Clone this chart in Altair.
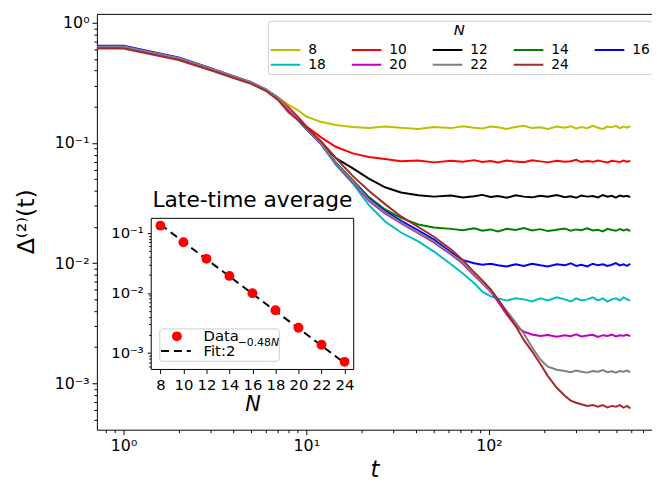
import altair as alt
import pandas as pd

# ---------------- data ----------------
T = [0.72, 1, 2, 3, 4, 5, 6, 7, 8, 9, 10, 12, 14.5, 18, 22, 27, 33, 41, 50, 62, 72, 83, 92,
     102, 112, 125, 140, 155, 172, 191, 210, 235, 260, 280, 300, 320, 345, 370, 395, 420,
     445, 470, 495, 520, 545, 570, 593]

D8 = [0.62, 0.62, 0.50, 0.41, 0.352, 0.314, 0.277, 0.240, 0.208, 0.188, 0.166, 0.150, 0.141,
      0.136, 0.133, 0.137, 0.134, 0.131, 0.136, 0.133, 0.138, 0.134, 0.132, 0.137, 0.135,
      0.131, 0.136, 0.139, 0.133, 0.135, 0.131, 0.137, 0.134, 0.138, 0.132, 0.136, 0.133,
      0.139, 0.134, 0.131, 0.137, 0.135, 0.139, 0.133, 0.137, 0.134, 0.138]
D10 = [0.62, 0.62, 0.50, 0.41, 0.353, 0.315, 0.276, 0.236, 0.198, 0.165, 0.138, 0.112, 0.093,
       0.082, 0.0765, 0.0735, 0.0705, 0.0715, 0.0690, 0.0712, 0.0698, 0.0720, 0.0695, 0.0708,
       0.0688, 0.0715, 0.0700, 0.0692, 0.0718, 0.0703, 0.0690, 0.0712, 0.0698, 0.0706, 0.0725,
       0.0694, 0.0709, 0.0697, 0.0716, 0.0700, 0.0689, 0.0711, 0.0703, 0.0694, 0.0714, 0.0699,
       0.0708]
D12 = [0.62, 0.62, 0.50, 0.41, 0.353, 0.315, 0.276, 0.234, 0.192, 0.158, 0.133, 0.102, 0.075,
       0.0615, 0.0505, 0.0428, 0.0388, 0.0368, 0.0358, 0.0366, 0.0352, 0.0360, 0.0370, 0.0355,
       0.0362, 0.0350, 0.0367, 0.0358, 0.0353, 0.0364, 0.0357, 0.0369, 0.0354, 0.0361, 0.0350,
       0.0365, 0.0358, 0.0362, 0.0352, 0.0368, 0.0357, 0.0363, 0.0351, 0.0366, 0.0359, 0.0364,
       0.0355]
D14 = [0.62, 0.62, 0.50, 0.41, 0.353, 0.315, 0.276, 0.234, 0.190, 0.157, 0.132, 0.100, 0.069,
       0.049, 0.0355, 0.0280, 0.0238, 0.0210, 0.0198, 0.0193, 0.0188, 0.0195, 0.0186, 0.0191,
       0.0184, 0.0193, 0.0189, 0.0196, 0.0187, 0.0192, 0.0185, 0.0190, 0.0194, 0.0186, 0.0191,
       0.0188, 0.0195, 0.0187, 0.0190, 0.0184, 0.0193, 0.0189, 0.0186, 0.0192, 0.0187, 0.0191,
       0.0185]
D16 = [0.645, 0.645, 0.515, 0.42, 0.36, 0.32, 0.28, 0.238, 0.192, 0.158, 0.133, 0.100, 0.068,
       0.048, 0.0345, 0.0272, 0.0225, 0.0188, 0.0157, 0.0123, 0.0106, 0.0100, 0.0097, 0.0099,
       0.0096, 0.0094, 0.0098, 0.0095, 0.0099, 0.0096, 0.0094, 0.0098, 0.0096, 0.0100, 0.0095,
       0.0097, 0.0094, 0.0099, 0.0096, 0.0098, 0.0095, 0.0097, 0.0100, 0.0096, 0.0098, 0.0095,
       0.0099]
D18 = [0.62, 0.62, 0.50, 0.41, 0.353, 0.315, 0.276, 0.234, 0.189, 0.155, 0.130, 0.098, 0.066,
       0.046, 0.0305, 0.0222, 0.0180, 0.0152, 0.0125, 0.0098, 0.0082, 0.0068, 0.0058, 0.0053,
       0.0051, 0.0049, 0.0051, 0.0050, 0.0048, 0.0051, 0.0049, 0.0052, 0.0050, 0.0048, 0.0051,
       0.0049, 0.0050, 0.0052, 0.0049, 0.0051, 0.0048, 0.0050, 0.0051, 0.0049, 0.0052, 0.0050,
       0.0049]
D20 = [0.63, 0.63, 0.505, 0.413, 0.355, 0.316, 0.277, 0.235, 0.190, 0.156, 0.131, 0.099, 0.067,
       0.047, 0.0330, 0.0260, 0.0215, 0.0178, 0.0149, 0.0118, 0.0099, 0.0079, 0.0068, 0.0058,
       0.0048, 0.00375, 0.0030, 0.0027, 0.00255, 0.00248, 0.00253, 0.00245, 0.00251, 0.00247,
       0.00256, 0.00246, 0.00250, 0.00254, 0.00244, 0.00252, 0.00248, 0.00255, 0.00246,
       0.00251, 0.00249, 0.00254, 0.00247]
D22 = [0.635, 0.635, 0.51, 0.418, 0.36, 0.32, 0.281, 0.239, 0.193, 0.158, 0.133, 0.100, 0.068,
       0.048, 0.0338, 0.0265, 0.0218, 0.0180, 0.0152, 0.0120, 0.0101, 0.0080, 0.0069, 0.0059,
       0.0050, 0.0040, 0.0032, 0.0026, 0.0020, 0.00158, 0.00138, 0.00130, 0.00127, 0.00124,
       0.00128, 0.00125, 0.00123, 0.00127, 0.00125, 0.00129, 0.00124, 0.00126, 0.00123,
       0.00127, 0.00125, 0.00128, 0.00124]
D24 = [0.61, 0.61, 0.49, 0.403, 0.347, 0.31, 0.272, 0.228, 0.180, 0.155, 0.135, 0.104, 0.075,
       0.053, 0.040, 0.031, 0.0245, 0.0200, 0.0166, 0.0130, 0.0106, 0.0084, 0.0072, 0.0061,
       0.0050, 0.0039, 0.0030, 0.0023, 0.00185, 0.00145, 0.00115, 0.00092, 0.00079, 0.00072,
       0.00069, 0.00067, 0.00065, 0.00066, 0.00064, 0.00066, 0.00063, 0.00065, 0.00064,
       0.00066, 0.00063, 0.00065, 0.00062]

N_LIST = [8, 10, 12, 14, 16, 18, 20, 22, 24]
SERIES = [D8, D10, D12, D14, D16, D18, D20, D22, D24]
COLORS = ["#bfbf00", "#ff0000", "#000000", "#008000", "#0000ff",
          "#00bfbf", "#bf00bf", "#808080", "#a52a2a"]

INSET_N = [8, 10, 12, 14, 16, 18, 20, 22, 24]
INSET_AVG = [0.132, 0.070, 0.037, 0.0192, 0.0099, 0.00514, 0.00263, 0.00137, 0.00071]
FIT_N = [8, 24]
FIT_V = [0.138, 0.00068]

X_MAJOR = [1, 10, 100]
X_MINOR = [0.8, 0.9, 2, 3, 4, 5, 6, 7, 8, 9, 20, 30, 40, 50, 60, 70, 80, 90,
           200, 300, 400, 500, 600, 700]
Y_MAJOR = [1, 0.1, 0.01, 0.001]
Y_MINOR = [0.0005, 0.0006, 0.0007, 0.0008, 0.0009,
           0.002, 0.003, 0.004, 0.005, 0.006, 0.007, 0.008, 0.009,
           0.02, 0.03, 0.04, 0.05, 0.06, 0.07, 0.08, 0.09,
           0.2, 0.3, 0.4, 0.5, 0.6, 0.7, 0.8, 0.9]
IY_MAJOR = [0.1, 0.01, 0.001]
IY_MINOR = [0.0006, 0.0007, 0.0008, 0.0009,
            0.002, 0.003, 0.004, 0.005, 0.006, 0.007, 0.008, 0.009,
            0.02, 0.03, 0.04, 0.05, 0.06, 0.07, 0.08, 0.09]

# ---------------- tables ----------------
rows = []
for n, vals in zip(N_LIST, SERIES):
    for t, v in zip(T, vals):
        rows.append({"t": t, "v": v, "N": str(n)})
df = pd.DataFrame(rows)
df_in = pd.DataFrame({"N": INSET_N, "avg": INSET_AVG})
df_fit = pd.DataFrame({"N": FIT_N, "v": FIT_V})

FONT = "DejaVu Sans"
W, H = 562, 421
XDOM = [0.715, 780]
YDOM = [4.12e-4, 1.186]
IXDOM = [7.2, 24.8]
IYDOM = [5.3e-4, 0.175]
IXR = [55, 260]
IYR = [360, 207]
df_frame = pd.DataFrame({"x0": [IXDOM[0]], "x1": [IXDOM[1]], "y0": [IYDOM[0]], "y1": [IYDOM[1]]})
one = pd.DataFrame({"a": [0]})

xs = alt.Scale(type="log", domain=XDOM, nice=False)
ys = alt.Scale(type="log", domain=YDOM, nice=False)
ixs = alt.Scale(type="linear", domain=IXDOM, range=IXR, nice=False, zero=False)
iys = alt.Scale(type="log", domain=IYDOM, range=IYR, nice=False)

sup_y = ("datum.value >= 0.5 ? '10⁰' : datum.value >= 0.05 ? '10⁻¹' : "
         "datum.value >= 0.005 ? '10⁻²' : '10⁻³'")
sup_x = "datum.value < 5 ? '10⁰' : datum.value < 50 ? '10¹' : '10²'"

x_major = alt.Axis(orient="bottom", values=X_MAJOR, labelExpr=sup_x, tickSize=5,
                   labelFontSize=16, labelPadding=3, labelOverlap=False, domain=False,
                   title="t", titleFontSize=23, titleFontStyle="italic",
                   titleFontWeight="normal", titleY=47, titleBaseline="alphabetic")
x_minor = alt.Axis(orient="bottom", values=X_MINOR, labels=False, tickSize=3,
                   domain=False, title=None)
y_major = alt.Axis(orient="left", values=Y_MAJOR, labelExpr=sup_y, tickSize=5,
                   labelFontSize=16, labelPadding=3, labelOverlap=False, domain=False,
                   title="Δ⁽²⁾(t)", titleFontSize=24, titleFontWeight="normal",
                   titleX=-71, titleY=210, titleAngle=270, titleAlign="center",
                   titleBaseline="middle")
y_minor = alt.Axis(orient="left", values=Y_MINOR, labels=False, tickSize=3,
                   domain=False, title=None)

legend = alt.Legend(orient="none", legendX=173, legendY=7, columns=5, direction="horizontal",
                    title="N", titleFontStyle="italic", titleFontSize=15,
                    titleFontWeight="normal", titleAnchor="middle", titlePadding=5,
                    labelFontSize=14, symbolType="stroke", symbolSize=900,
                    symbolStrokeWidth=2, clipHeight=15, rowPadding=-2, columnPadding=25,
                    labelOffset=7, padding=2, strokeColor="#cccccc",
                    fillColor="rgba(255,255,255,0.8)", cornerRadius=3, gridAlign="all",
                    labelColor="black", titleColor="black")

lines = alt.Chart(df).mark_line(strokeWidth=2, clip=True).encode(
    x=alt.X("t:Q", scale=xs, axis=x_major),
    y=alt.Y("v:Q", scale=ys, axis=y_major),
    color=alt.Color("N:N", sort=[str(n) for n in N_LIST],
                    scale=alt.Scale(domain=[str(n) for n in N_LIST], range=COLORS),
                    legend=legend),
)
minor = alt.Chart(df).mark_line(opacity=0).encode(
    x=alt.X("t:Q", scale=xs, axis=x_minor),
    y=alt.Y("v:Q", scale=ys, axis=y_minor),
    detail="N:N",
)
main = alt.layer(lines, minor).resolve_axis(x="independent", y="independent")

# ---------------- inset ----------------
sup_iy = "datum.value >= 0.05 ? '10⁻¹' : datum.value >= 0.005 ? '10⁻²' : '10⁻³'"
ix_axis = alt.Axis(orient="bottom", offset=-(H - IYR[0]), values=INSET_N, format="d",
                   tickSize=4, labelFontSize=15, labelPadding=4, labelOverlap=False,
                   domain=False, title="N", titleFontSize=21, titleFontStyle="italic",
                   titleFontWeight="normal", titleY=42, titleBaseline="alphabetic")
iy_axis = alt.Axis(orient="left", offset=-IXR[0], values=IY_MAJOR, labelExpr=sup_iy,
                   tickSize=4, labelFontSize=15, labelPadding=4, labelOverlap=False,
                   domain=False, title=None)
iy_minor = alt.Axis(orient="left", offset=-IXR[0], values=IY_MINOR, labels=False,
                    tickSize=2.5, domain=False, title=None)

frame = alt.Chart(df_frame).mark_rect(fill="white", stroke="black", strokeWidth=1).encode(
    x=alt.X("x0:Q", scale=ixs, axis=None), x2="x1:Q",
    y=alt.Y("y0:Q", scale=iys, axis=None), y2="y1:Q",
)
fit = alt.Chart(df_fit).mark_line(color="black", strokeWidth=2, strokeDash=[8, 5]).encode(
    x=alt.X("N:Q", scale=ixs, axis=None),
    y=alt.Y("v:Q", scale=iys, axis=None),
)
pts = alt.Chart(df_in).mark_circle(size=100, color="red", opacity=1).encode(
    x=alt.X("N:Q", scale=ixs, axis=ix_axis),
    y=alt.Y("avg:Q", scale=iys, axis=iy_axis),
)
pts_minor = alt.Chart(df_in).mark_circle(opacity=0).encode(
    x=alt.X("N:Q", scale=ixs, axis=None),
    y=alt.Y("avg:Q", scale=iys, axis=iy_minor),
)

def txt(s, x, y, size, align="left", baseline="middle", style="normal"):
    return alt.Chart(one).mark_text(text=s, fontSize=size, align=align, baseline=baseline,
                                    fontStyle=style, color="black", font=FONT).encode(
        x=alt.value(x), y=alt.value(y))

title_in = txt("Late-time average", 157.5, 196, 22, align="center", baseline="alphabetic")
leg_box = alt.Chart(one).mark_rect(fill="white", fillOpacity=0.8, stroke="#cccccc",
                                   strokeWidth=1, cornerRadius=3).encode(
    x=alt.value(63.7), x2=alt.value(184.7), y=alt.value(319), y2=alt.value(351.7))
leg_pt = alt.Chart(one).mark_circle(size=100, color="red", opacity=1).encode(
    x=alt.value(81), y=alt.value(326.5))
leg_dash = alt.Chart(one).mark_rule(color="black", strokeWidth=2, strokeDash=[8, 5]).encode(
    x=alt.value(65), x2=alt.value(95), y=alt.value(341.3))
t_data = txt("Data", 108, 326, 15)
t_fit = txt("Fit:2", 108, 341.5, 15)
t_sup = txt("−0.48", 142.5, 333.5, 11)
t_supN = txt("N", 142.5 + 3.06 * 11, 333.5, 11, style="italic")

inset = alt.layer(frame, fit, pts, pts_minor).resolve_axis(x="independent", y="independent")
annot = alt.layer(title_in, leg_box, leg_pt, leg_dash, t_data, t_fit, t_sup, t_supN)

chart = alt.layer(main, inset, annot).resolve_scale(
    x="independent", y="independent"
).properties(
    width=W, height=H,
    autosize=alt.AutoSizeParams(type="none"),
    padding={"left": 90, "top": 3, "right": 0, "bottom": 50},
    background="white",
).configure_view(
    stroke="black", strokeWidth=1
).configure_axis(
    labelFont=FONT, titleFont=FONT, labelColor="black", titleColor="black",
    tickColor="black", tickWidth=1, grid=False
).configure_legend(
    labelFont=FONT, titleFont=FONT
)

chart.save("out.html", embed_options={"renderer": "svg", "actions": False})
